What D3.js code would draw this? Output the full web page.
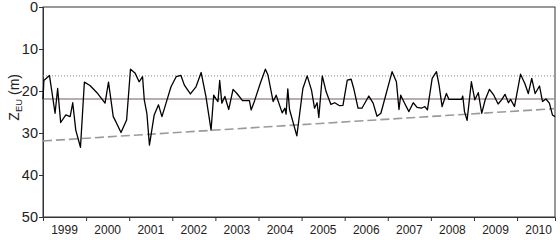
<!DOCTYPE html>
<html>
<head>
<meta charset="utf-8">
<script src="https://cdn.jsdelivr.net/npm/d3@7"></script>
<style>
  body { margin: 0; background: #fff; }
  text { font-family: "Liberation Sans Narrow", "Arial Narrow", "Liberation Sans", sans-serif; fill: #222; }
</style>
</head>
<body>
<div id="my_datavis"></div>
<script>
// decimal year of each sample
var years = [
  1999.00, 1999.02, 1999.15, 1999.28, 1999.34, 1999.41, 1999.53, 1999.63, 1999.69, 1999.76,
  1999.87, 1999.96, 2000.09, 2000.27, 2000.44, 2000.52, 2000.63, 2000.69, 2000.81, 2000.94,
  2001.03, 2001.14, 2001.23, 2001.31, 2001.35, 2001.41, 2001.47, 2001.58, 2001.68, 2001.76,
  2001.89, 2001.97, 2002.09, 2002.20, 2002.28, 2002.42, 2002.55, 2002.67, 2002.78, 2002.90,
  2002.96, 2003.01, 2003.06, 2003.10, 2003.15, 2003.22, 2003.31, 2003.41, 2003.50, 2003.63,
  2003.79, 2003.83, 2003.91, 2004.04, 2004.16, 2004.22, 2004.34, 2004.41, 2004.55, 2004.61,
  2004.64, 2004.68, 2004.72, 2004.89, 2005.03, 2005.13, 2005.23, 2005.30, 2005.36, 2005.40,
  2005.48, 2005.57, 2005.68, 2005.77, 2005.88, 2005.96, 2006.06, 2006.15, 2006.21, 2006.31,
  2006.40, 2006.56, 2006.66, 2006.75, 2006.84, 2007.10, 2007.20, 2007.26, 2007.30, 2007.39,
  2007.49, 2007.59, 2007.68, 2007.78, 2007.86, 2007.92, 2008.03, 2008.13, 2008.19, 2008.26,
  2008.36, 2008.42, 2008.58, 2008.71, 2008.74, 2008.78, 2008.84, 2008.94, 2009.02, 2009.10,
  2009.18, 2009.26, 2009.36, 2009.46, 2009.56, 2009.64, 2009.72, 2009.80, 2009.85, 2009.94,
  2010.08, 2010.18, 2010.26, 2010.34, 2010.42, 2010.52, 2010.59, 2010.67, 2010.75, 2010.82,
  2010.88
];

// euphotic depth Z_EU (m)
var zeu = [
  22.0, 17.5, 16.3, 25.3, 19.4, 27.5, 25.7, 26.1, 22.8, 29.3,
  33.4, 17.9, 18.7, 20.6, 22.9, 17.9, 26.1, 27.3, 29.9, 26.9,
  14.8, 15.8, 17.8, 16.6, 22.1, 25.3, 32.9, 25.7, 23.3, 26.1,
  21.7, 19.0, 16.6, 16.3, 18.6, 20.7, 19.0, 15.6, 21.3, 29.3,
  21.0, 21.8, 22.5, 17.5, 22.9, 21.3, 24.4, 19.6, 20.6, 22.3,
  22.3, 24.5, 22.3, 18.2, 14.8, 16.2, 22.5, 21.0, 25.2, 24.1,
  25.5, 19.5, 24.4, 30.7, 19.4, 16.4, 19.8, 24.1, 22.8, 26.3,
  16.4, 20.2, 23.2, 22.8, 23.5, 23.4, 17.4, 17.2, 19.4, 24.1,
  24.1, 21.2, 22.9, 26.0, 25.3, 15.4, 17.8, 24.4, 21.0, 22.9,
  24.9, 22.8, 23.9, 24.1, 23.7, 24.5, 17.0, 15.4, 18.6, 23.7,
  20.6, 22.0, 22.0, 22.0, 21.2, 24.9, 27.0, 17.8, 22.1, 20.4,
  25.3, 22.1, 19.6, 21.0, 23.1, 22.1, 20.8, 22.8, 22.0, 23.7,
  16.0, 18.2, 20.6, 17.0, 20.6, 18.8, 22.5, 21.9, 22.9, 25.7,
  26.1
];

var yearLabels = ["1999", "2000", "2001", "2002", "2003", "2004", "2005", "2006", "2007", "2008", "2009", "2010"];
var yTicks = [0, 10, 20, 30, 40, 50];

var dottedLevel = 16.4;     // upper reference
var meanLevel = 21.9;       // mean Z_EU
var trendStart = [1999.0, 31.9];
var trendEnd = [2010.88, 24.2];

var margin = { top: 7, bottom: 23, left: 43, right: 5 },
  width = 560 - margin.left - margin.right,
  height = 240 - margin.top - margin.bottom;

var svg = d3
  .select("#my_datavis")
  .append("svg")
  .attr("width", width + margin.left + margin.right)
  .attr("height", height + margin.top + margin.bottom)
  .append("g")
  .attr("transform", "translate(" + margin.left + "," + margin.top + ")");

var x = d3.scaleLinear()
          .domain([1999, 2010.88])
          .range([0, width]);

var y = d3.scaleLinear()
          .domain([0, 50])
          .range([0, height]);

// frame
svg.append("rect")
   .attr("x", 0).attr("y", 0)
   .attr("width", width).attr("height", height)
   .attr("fill", "none")
   .attr("stroke", "#333")
   .attr("stroke-width", 1);

// y axis
var yAxis = svg.append("g")
   .call(d3.axisLeft(y).tickValues(yTicks).tickSize(4).tickFormat(d3.format("d")));
yAxis.select(".domain").attr("stroke", "#333");
yAxis.selectAll("line").attr("stroke", "#333");
yAxis.selectAll("text")
     .attr("font-size", 14.5)
     .attr("x", -5)
     .style("font-family", "'Liberation Sans Narrow', 'Arial Narrow', sans-serif");

// x axis: ticks at year boundaries, labels in the middle of each year
var boundaries = d3.range(2000, 2011);
var xAxis = svg.append("g")
   .attr("transform", "translate(0," + height + ")")
   .call(d3.axisBottom(x).tickValues(boundaries).tickSize(4).tickFormat(""));
xAxis.select(".domain").attr("stroke", "#333");
xAxis.selectAll("line").attr("stroke", "#333");

svg.append("g")
   .selectAll("text")
   .data(yearLabels)
   .enter()
   .append("text")
   .attr("x", function(d) { return x(+d + 0.5) })
   .attr("y", height + 17)
   .attr("text-anchor", "middle")
   .attr("font-size", 12)
   .text(function(d) { return d });

// axis title
var title = svg.append("text")
   .attr("transform", "translate(-24," + y(21.5) + ") rotate(-90)")
   .attr("text-anchor", "middle")
   .attr("font-size", 14);
title.append("tspan").text("Z");
title.append("tspan").attr("font-size", 9.5).attr("dy", 3).text("EU");
title.append("tspan").attr("dy", -3).text(" (m)");

// reference lines
svg.append("line")
   .attr("x1", 0).attr("x2", width)
   .attr("y1", y(dottedLevel)).attr("y2", y(dottedLevel))
   .attr("stroke", "#888")
   .attr("stroke-width", 1)
   .attr("stroke-dasharray", "1,2");

svg.append("line")
   .attr("x1", 0).attr("x2", width)
   .attr("y1", y(meanLevel)).attr("y2", y(meanLevel))
   .attr("stroke", "#a09292")
   .attr("stroke-width", 1.3);

svg.append("line")
   .attr("x1", x(trendStart[0])).attr("x2", x(trendEnd[0]))
   .attr("y1", y(trendStart[1])).attr("y2", y(trendEnd[1]))
   .attr("stroke", "#9a9a9a")
   .attr("stroke-width", 1.6)
   .attr("stroke-dasharray", "9,4");

// data line
svg.append("path")
   .datum(d3.zip(years, zeu))
   .attr("fill", "none")
   .attr("stroke", "#000")
   .attr("stroke-width", 1.3)
   .attr("stroke-linejoin", "round")
   .attr("d", d3.line()
                .x(function(d) { return x(d[0]) })
                .y(function(d) { return y(d[1]) })
        );
</script>
</body>
</html>
